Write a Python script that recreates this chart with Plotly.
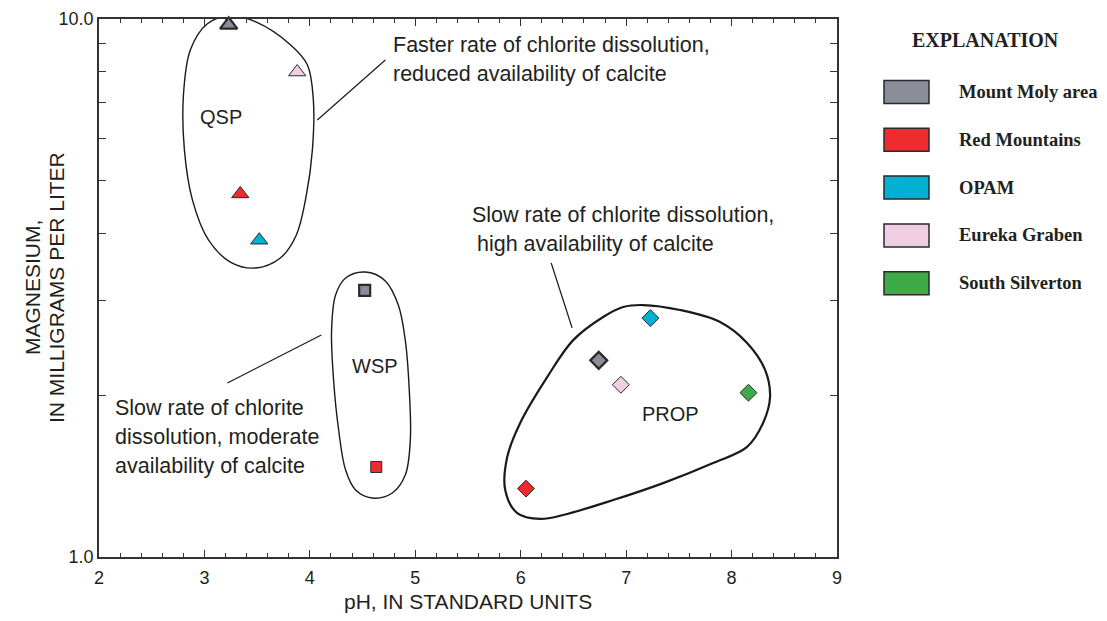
import numpy as np
import plotly.graph_objects as go

# ---------------- data ----------------
categories = ["Mount Moly area", "Red Mountains", "OPAM", "Eureka Graben", "South Silverton"]
cat_colors = ["#8a8e99", "#ee2b2f", "#00b1d2", "#f0cee3", "#3eaa48"]

# QSP (triangles)
qsp_area = ["Mount Moly area", "Eureka Graben", "Red Mountains", "OPAM"]
qsp_ph = [3.23, 3.88, 3.34, 3.52]
qsp_mg = [9.75, 7.97, 4.73, 3.88]

# WSP (squares)
wsp_area = ["Mount Moly area", "Red Mountains"]
wsp_ph = [4.52, 4.63]
wsp_mg = [3.13, 1.47]

# PROP (diamonds)
prop_area = ["OPAM", "Mount Moly area", "Eureka Graben", "South Silverton", "Red Mountains"]
prop_ph = [7.23, 6.74, 6.95, 8.16, 6.05]
prop_mg = [2.78, 2.32, 2.09, 2.02, 1.34]

# group outlines (pH, Mg)
qsp_outline_ph = [3.246, 3.483, 3.815, 3.976, 4.033, 4.024, 3.967, 3.872, 3.720, 3.483,
                  3.246, 3.038, 2.886, 2.810, 2.801, 2.867, 3.028]
qsp_outline_mg = [10.14, 9.885, 8.958, 8.222, 7.074, 5.711, 4.71, 3.968, 3.595, 3.444,
                  3.534, 3.884, 4.61, 5.711, 7.227, 8.768, 9.80]
wsp_outline_ph = [4.526, 4.716, 4.839, 4.905, 4.943, 4.953, 4.905, 4.782, 4.592, 4.434,
                  4.339, 4.273, 4.225, 4.206, 4.244, 4.339]
wsp_outline_mg = [3.386, 3.26, 2.94, 2.53, 2.04, 1.65, 1.42, 1.315, 1.287, 1.332,
                  1.451, 1.722, 2.133, 2.642, 3.069, 3.30]
prop_outline_ph = [7.161, 7.512, 7.891, 8.147, 8.318, 8.365, 8.299, 8.147, 7.825, 7.351,
                   6.877, 6.403, 6.185, 5.967, 5.853, 5.872, 5.995, 6.251, 6.498, 6.782, 6.972]
prop_outline_mg = [2.94, 2.878, 2.734, 2.50, 2.227, 1.983, 1.775, 1.602, 1.495, 1.372,
                   1.276, 1.197, 1.177, 1.207, 1.332, 1.534, 1.775, 2.16, 2.53, 2.793, 2.915]

# leader lines (pH pairs, Mg pairs)
leader_ph = [[4.071, 4.716], [6.289, 6.488], [3.218, 4.109]]
leader_mg = [[6.49, 8.39], [3.52, 2.665], [2.106, 2.586]]

# text notes (lines), anchored at first line
note_lines = [["Faster rate of chlorite dissolution,", "reduced availability of calcite"],
              ["Slow rate of chlorite dissolution,", "high availability of calcite"],
              ["Slow rate of chlorite", "dissolution, moderate", "availability of calcite"]]
note_ph = [4.773, 5.521, 2.137]
note_mg = [8.958, 4.324, 1.891]

group_labels = ["QSP", "WSP", "PROP"]
group_label_ph = [3.161, 4.621, 7.417]
group_label_mg = [6.58, 2.264, 1.844]

x_ticks = [2, 3, 4, 5, 6, 7, 8, 9]
y_ticks = [1, 10]
y_ticktext = ["1.0", "10.0"]
y_minor = [2, 3, 4, 5, 6, 7, 8, 9]

x_title = "pH, IN STANDARD UNITS"
y_title_lines = ["MAGNESIUM,", "IN MILLIGRAMS PER LITER"]
legend_title = "EXPLANATION"

# ---------------- figure ----------------
OFF = 8                      # default margin of the html body
W, H = 1107 - 2 * OFF, 621 - 2 * OFF   # no page overflow
PL, PR, PT, PB = 99, 837, 19, 557      # plot area in page pixels
ML, MR, MT, MB = PL - OFF, W - (PR - OFF), PT - OFF, H - (PB - OFF)
color_of = dict(zip(categories, cat_colors))
TXT = "#231f20"

fig = go.Figure()

def closed(a):
    return list(a) + [a[0]]

for oph, omg, lw in [(qsp_outline_ph, qsp_outline_mg, 1.4),
                     (wsp_outline_ph, wsp_outline_mg, 1.4),
                     (prop_outline_ph, prop_outline_mg, 2.2)]:
    fig.add_trace(go.Scatter(x=closed(oph), y=closed(omg), mode="lines",
                             line=dict(color="#1a1a1a", width=lw, shape="spline", smoothing=1.0),
                             hoverinfo="skip", showlegend=False))

for lph, lmg in zip(leader_ph, leader_mg):
    fig.add_trace(go.Scatter(x=lph, y=lmg, mode="lines",
                             line=dict(color="#1a1a1a", width=1.2),
                             hoverinfo="skip", showlegend=False))

def add_points(areas, phs, mgs, symbol, size):
    for a, p, m in zip(areas, phs, mgs):
        heavy = a == "Mount Moly area"
        fig.add_trace(go.Scatter(
            x=[p], y=[m], mode="markers", cliponaxis=False, name=a, showlegend=False,
            marker=dict(symbol=symbol, size=size, color=color_of[a],
                        line=dict(color="#2a2a2a", width=2.2 if heavy else 1))))

add_points(qsp_area, qsp_ph, qsp_mg, "triangle-up", 15)
add_points(wsp_area, wsp_ph, wsp_mg, "square", 11)
add_points(prop_area, prop_ph, prop_mg, "diamond", 13)

note_font = dict(family="Liberation Sans, Arial, sans-serif", size=21.5, color=TXT)
LINE = 29
for k, (lines, p, m) in enumerate(zip(note_lines, note_ph, note_mg)):
    for i, t in enumerate(lines):
        fig.add_annotation(x=p, y=np.log10(m), xref="x", yref="y", text=t, showarrow=False,
                           xanchor="left", yanchor="middle", align="left", font=note_font,
                           yshift=-i * LINE, xshift=(5 if (k == 1 and i == 1) else 0))
label_font = dict(family="Liberation Sans, Arial, sans-serif", size=20, color=TXT)
for t, p, m in zip(group_labels, group_label_ph, group_label_mg):
    fig.add_annotation(x=p, y=np.log10(m), xref="x", yref="y", text=t, showarrow=False,
                       xanchor="center", yanchor="middle", font=label_font)

# page-pixel -> paper coordinates for non-data decorations
pw, ph_ = W - ML - MR, H - MT - MB
def px2paper(xp, yp):
    return (xp - OFF - ML) / pw, 1 - (yp - OFF - MT) / ph_

# legend (EXPLANATION)
ex, ey = px2paper(985, 40)
fig.add_annotation(x=ex, y=ey, xref="paper", yref="paper", text="<b>%s</b>" % legend_title,
                   showarrow=False, xanchor="center", yanchor="middle",
                   font=dict(family="Liberation Serif, serif", size=20, color=TXT))
for i, (c, col) in enumerate(zip(categories, cat_colors)):
    yc = 92 + i * 47.8
    x0, y0 = px2paper(884, yc - 11.5)
    x1, y1 = px2paper(929, yc + 11.5)
    fig.add_shape(type="rect", xref="paper", yref="paper", x0=x0, x1=x1, y0=y1, y1=y0,
                  fillcolor=col, line=dict(color="#2a2a2a", width=1.5))
    tx, ty = px2paper(957, yc)
    fig.add_annotation(x=tx, y=ty, xref="paper", yref="paper", text="<b>%s</b>" % c,
                       showarrow=False, xanchor="left", yanchor="middle",
                       font=dict(family="Liberation Serif, serif", size=18.5, color=TXT))

# axis titles
for t, xc in zip(y_title_lines, [32, 56]):
    yx, yy = px2paper(xc, 288)
    fig.add_annotation(x=yx, y=yy, xref="paper", yref="paper", text=t, showarrow=False,
                       textangle=-90, xanchor="center", yanchor="middle",
                       font=dict(family="Liberation Sans, Arial, sans-serif", size=21, color=TXT))
tx, ty = px2paper((PL + PR) / 2, 601)
fig.add_annotation(x=tx, y=ty, xref="paper", yref="paper", text=x_title, showarrow=False,
                   xanchor="center", yanchor="middle",
                   font=dict(family="Liberation Sans, Arial, sans-serif", size=21, color=TXT))

axis_font = dict(family="Liberation Sans, Arial, sans-serif", size=18, color=TXT)
fig.update_xaxes(range=[2, 9], tickvals=x_ticks, ticks="inside", ticklen=7, tickwidth=1.2,
                 tickcolor="#333", showline=True, linecolor="#333", linewidth=1.5, mirror="ticks",
                 showgrid=False, zeroline=False, tickfont=axis_font, ticklabelstandoff=4,
                 automargin=False,
                 minor=dict(dtick=0.2, ticks="inside", ticklen=4, tickcolor="#333", tickwidth=1, showgrid=False))
fig.update_yaxes(type="log", range=[0, 1], tickvals=y_ticks, ticktext=y_ticktext, ticks="inside",
                 ticklen=7, tickwidth=1.2, tickcolor="#333", showline=True, linecolor="#333",
                 linewidth=1.5, mirror="ticks", showgrid=False, zeroline=False, tickfont=axis_font,
                 automargin=False,
                 minor=dict(tickvals=y_minor, ticks="inside", ticklen=7, tickcolor="#333", tickwidth=1.2, showgrid=False))

fig.update_layout(width=W, height=H, margin=dict(l=ML, r=MR, t=MT, b=MB, autoexpand=False),
                  plot_bgcolor="white", paper_bgcolor="white", showlegend=False)

fig.write_html("out.html")
